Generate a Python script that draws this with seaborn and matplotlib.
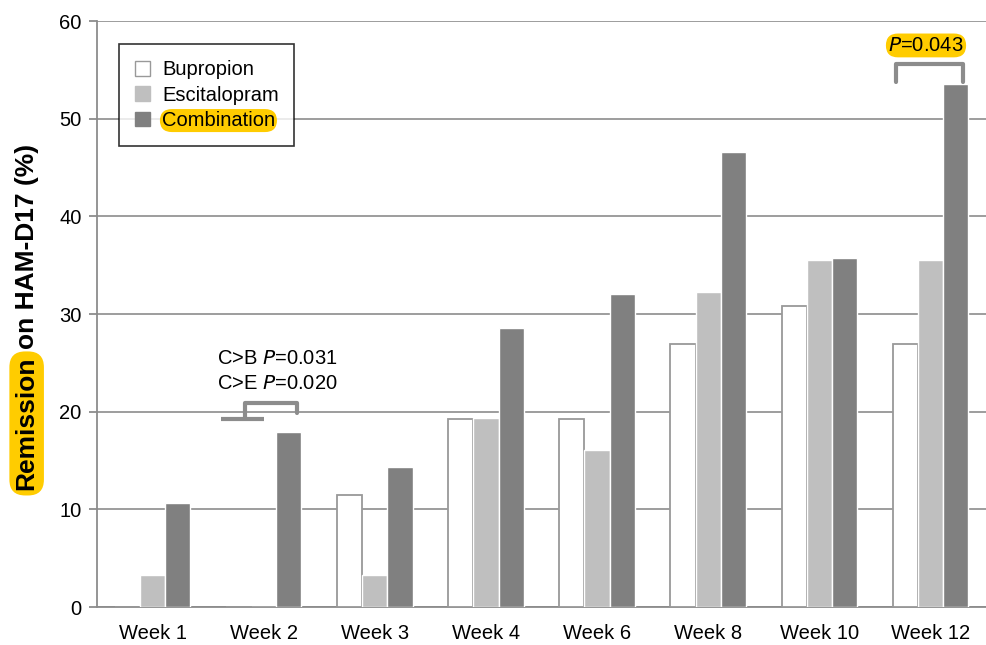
import pandas as pd
import matplotlib.pyplot as plt
import seaborn as sns
from matplotlib.patches import Patch

weeks = ['Week 1', 'Week 2', 'Week 3', 'Week 4', 'Week 6', 'Week 8', 'Week 10', 'Week 12']
groups = ['Bupropion', 'Escitalopram', 'Combination']
bupropion = [0, 0, 11.5, 19.2, 19.2, 26.9, 30.8, 26.9]
escitalopram = [3.3, 0, 3.3, 19.4, 16.1, 32.3, 35.5, 35.5]
combination = [10.7, 17.9, 14.3, 28.6, 32.1, 46.6, 35.7, 53.6]
colors = ['#FFFFFF', '#BFBFBF', '#808080']
grey = '#8C8C8C'
yellow = '#FFCC00'

df = pd.DataFrame({'week': weeks * 3,
                   'group': [g for g in groups for _ in weeks],
                   'value': bupropion + escitalopram + combination})

sns.set_style('white')
plt.rcParams['font.family'] = ['Liberation Sans', 'DejaVu Sans']
plt.rcParams['text.color'] = 'black'
plt.rcParams['xtick.labelcolor'] = 'black'
plt.rcParams['ytick.labelcolor'] = 'black'

fs = 14.5

fig = plt.figure(figsize=(9.87, 6.45), dpi=100)
ax = fig.add_axes([0.0983, 0.0589, 0.9007, 0.9085])

sns.barplot(data=df, x='week', y='value', hue='group', palette=colors,
            width=0.68, saturation=1, legend=False, ax=ax, zorder=3)
for bar in ax.containers[0]:
    bar.set_edgecolor('#999999')
    bar.set_linewidth(1.3)

ax.set_xlim(-0.5, 7.5)
ax.set_ylim(0, 60)
ax.set_yticks(range(0, 61, 10))
ax.yaxis.grid(True, color=grey, linewidth=1.2, zorder=0)
ax.set_axisbelow(True)
sns.despine(ax=ax, top=True, right=True)
for s in ['left', 'bottom']:
    ax.spines[s].set_color(grey)
    ax.spines[s].set_linewidth(1.3)
ax.set_xticks([i - 0.5 for i in range(9)], minor=True)
ax.tick_params(axis='x', which='major', length=0, labelsize=fs, pad=12)
ax.tick_params(axis='x', which='minor', length=6, color=grey, width=1.3)
ax.tick_params(axis='y', length=6, color=grey, width=1.3, labelsize=fs, left=True, pad=5)
ax.set_xlabel('')
ax.set_ylabel('')

# legend
handles = [Patch(facecolor=c, edgecolor='#999999' if i == 0 else c, linewidth=1)
           for i, c in enumerate(colors)]
leg = ax.legend(handles, groups, loc='upper left', bbox_to_anchor=(0.0247, 0.96),
                fontsize=fs, frameon=True, fancybox=False, edgecolor='black',
                handlelength=0.75, handleheight=0.75, handletextpad=0.6,
                labelspacing=0.32, borderpad=0.78, borderaxespad=0)
leg.get_frame().set_linewidth(1.2)
leg.set_zorder(5)
leg.get_texts()[2].set_bbox(dict(boxstyle='round,pad=0.1,rounding_size=0.6',
                                 facecolor=yellow, edgecolor='none'))

# significance brackets
ax.plot([0.62, 1.0], [19.2, 19.2], color=grey, linewidth=3, solid_capstyle='butt', zorder=4)
ax.plot([0.83, 0.83, 1.30, 1.30], [19.3, 20.9, 20.9, 19.9], color=grey, linewidth=3, zorder=4)
ax.text(1.12, 25.4, 'C>B $\\it{P}$=0.031', ha='center', va='center', fontsize=fs)
ax.text(1.12, 22.9, 'C>E $\\it{P}$=0.020', ha='center', va='center', fontsize=fs)

ax.plot([6.69, 6.69, 7.29, 7.29], [53.8, 55.6, 55.6, 53.8], color=grey, linewidth=3, zorder=4)
ax.text(6.96, 57.5, '$\\it{P}$=0.043', ha='center', va='center', fontsize=fs,
        bbox=dict(boxstyle='round,pad=0.12,rounding_size=0.6', facecolor=yellow, edgecolor='none'))

# y label with highlighted first word
t1 = fig.text(0.027, 0.24, 'Remission', rotation=90, ha='center', va='bottom',
              fontsize=19, fontweight='bold',
              bbox=dict(boxstyle='round,pad=0.2,rounding_size=0.6', facecolor=yellow, edgecolor='none'))
fig.canvas.draw()
ext = t1.get_window_extent().transformed(fig.transFigure.inverted())
fig.text(0.027, ext.y1 + 0.012, 'on HAM-D17 (%)', rotation=90, ha='center', va='bottom',
         fontsize=19, fontweight='bold')

fig.savefig('out.png', dpi=100)
